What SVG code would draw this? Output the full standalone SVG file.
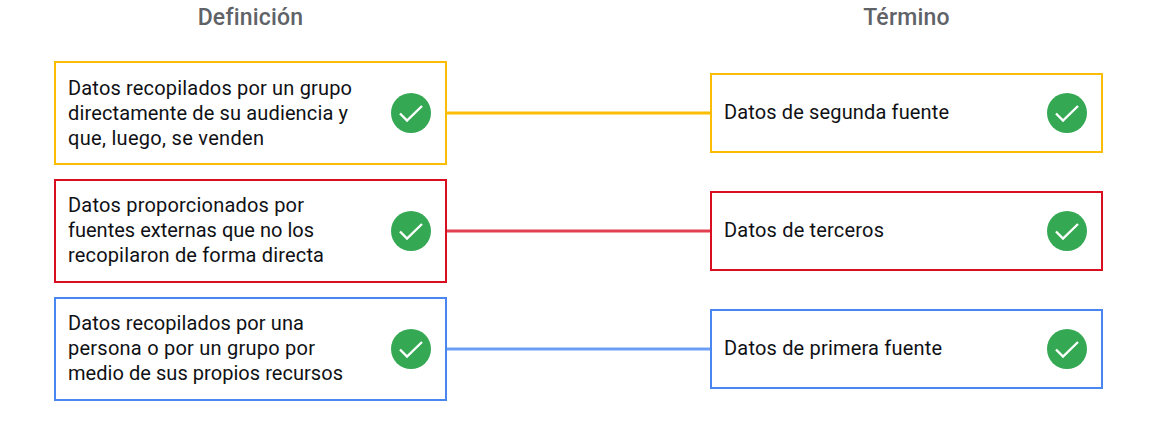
<svg xmlns="http://www.w3.org/2000/svg" width="1173" height="429" viewBox="0 0 1173 429">
<defs>
<g id="check"><circle r="20" fill="#34a853"/><path d="M-11 0.5L-4 7.5L11 -7" fill="none" stroke="#fff" stroke-width="2.4"/></g>
</defs>
<style>
text{font-family:"Roboto","Noto Sans",sans-serif;font-size:20px;fill:#0f1115}
.h{font-size:23px;letter-spacing:.2px;font-weight:500;fill:#5f6368;text-anchor:middle}
rect{fill:#fff;stroke-width:2}
.y{stroke:#fbbc04}.r{stroke:#d90f21}.b{stroke:#4a86f0}
.c{stroke-width:3;fill:none}
.halo{stroke-width:4;fill:none;stroke-opacity:.4}
.core{stroke-width:2;fill:none}
</style>
<rect width="1173" height="429" style="fill:#fff;stroke:none"/>
<g id="headers">
<text class="h" x="250.5" y="25">Definición</text>
<text class="h" x="906.5" y="25">Término</text>
</g>
<g id="connectors">
<line class="c y" x1="447" y1="113" x2="710" y2="113"/>
<line class="halo r" x1="447" y1="231" x2="710" y2="231"/>
<line class="core r" x1="447" y1="231" x2="710" y2="231" style="stroke:#e0404f"/>
<line class="halo b" x1="447" y1="349" x2="710" y2="349"/>
<line class="core b" x1="447" y1="349" x2="710" y2="349" style="stroke:#6a9ff6"/>
</g>
<g id="def1"><rect class="y" x="55" y="62" width="391" height="102"/>
<text x="68" y="95" textLength="284">Datos recopilados por un grupo</text><text x="68" y="120" textLength="280">directamente de su audiencia y</text><text x="68" y="145" textLength="196">que, luego, se venden</text>
<use href="#check" x="411" y="113"/></g>
<g id="def2"><rect class="r" x="55" y="180" width="391" height="102"/>
<text x="68" y="212" textLength="236">Datos proporcionados por</text><text x="68" y="237" textLength="246">fuentes externas que no los</text><text x="68" y="262" textLength="256">recopilaron de forma directa</text>
<use href="#check" x="411" y="231"/></g>
<g id="def3"><rect class="b" x="55" y="298" width="391" height="102"/>
<text x="68" y="330" textLength="236">Datos recopilados por una</text><text x="68" y="355" textLength="247">persona o por un grupo por</text><text x="68" y="380" textLength="275">medio de sus propios recursos</text>
<use href="#check" x="411" y="349"/></g>
<g id="term1"><rect class="y" x="711" y="74" width="391" height="78"/>
<text x="724" y="119" textLength="225">Datos de segunda fuente</text>
<use href="#check" x="1067" y="113"/></g>
<g id="term2"><rect class="r" x="711" y="192" width="391" height="78"/>
<text x="724" y="237" textLength="160">Datos de terceros</text>
<use href="#check" x="1067" y="231"/></g>
<g id="term3"><rect class="b" x="711" y="310" width="391" height="78"/>
<text x="724" y="355" textLength="218">Datos de primera fuente</text>
<use href="#check" x="1067" y="349"/></g>
</svg>
